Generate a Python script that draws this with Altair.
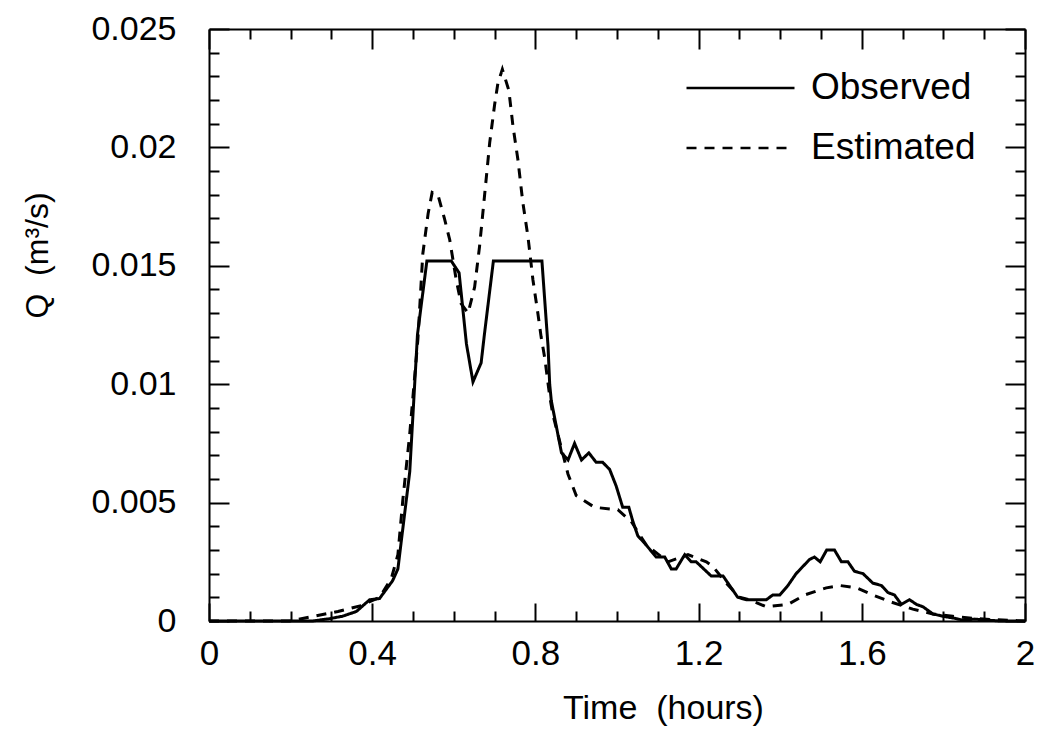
import altair as alt
import pandas as pd

# ---- data ----
obs_t = [0.0, 0.254, 0.296, 0.327, 0.361, 0.394, 0.418, 0.450, 0.463, 0.492, 0.511,
         0.534, 0.594, 0.613, 0.631, 0.647, 0.667, 0.675, 0.697, 0.816, 0.831, 0.835,
         0.839, 0.864, 0.880, 0.896, 0.913, 0.931, 0.949, 0.965, 0.982, 0.998, 1.014,
         1.029, 1.039, 1.051, 1.072, 1.096, 1.117, 1.133, 1.145, 1.166, 1.182, 1.194,
         1.231, 1.260, 1.296, 1.317, 1.366, 1.382, 1.399, 1.419, 1.439, 1.472, 1.484,
         1.498, 1.514, 1.533, 1.550, 1.566, 1.582, 1.603, 1.627, 1.648, 1.664, 1.680,
         1.697, 1.717, 1.734, 1.750, 1.774, 1.799, 1.832, 1.848, 1.877, 1.937, 2.0]
obs_q = [0.0, 0.0, 0.0001, 0.0002, 0.0004, 0.0009, 0.00095, 0.0017, 0.0022, 0.0063, 0.0121,
         0.0152, 0.0152, 0.0147, 0.0117, 0.0101, 0.0109, 0.0121, 0.0152, 0.0152, 0.0116, 0.0100,
         0.0093, 0.0071, 0.0068, 0.0075, 0.0068, 0.0071, 0.0067, 0.0067, 0.0064, 0.0057, 0.0048,
         0.0048, 0.0042, 0.0036, 0.0032, 0.0027, 0.0027, 0.0022, 0.0022, 0.0028, 0.0025, 0.0025,
         0.0019, 0.0019, 0.0010, 0.0009, 0.0009, 0.0011, 0.0011, 0.0015, 0.0020, 0.0026, 0.0027,
         0.0025, 0.0030, 0.0030, 0.0025, 0.0025, 0.0021, 0.0020, 0.0016, 0.0015, 0.0012, 0.0011,
         0.0007, 0.0009, 0.0007, 0.0006, 0.0003, 0.0002, 0.0001, 0.00003, 0.00008, 0.0, 0.0]

est_t = [0.0, 0.198, 0.316, 0.373, 0.418, 0.447, 0.463, 0.475, 0.492, 0.504, 0.512,
         0.524, 0.537, 0.547, 0.561, 0.577, 0.590, 0.606, 0.618, 0.635, 0.651, 0.663,
         0.675, 0.688, 0.700, 0.708, 0.719, 0.735, 0.745, 0.757, 0.769, 0.782, 0.794,
         0.806, 0.814, 0.823, 0.835, 0.843, 0.880, 0.900, 0.945, 1.002, 1.035, 1.072,
         1.125, 1.174, 1.219, 1.235, 1.268, 1.300, 1.325, 1.366, 1.419, 1.460, 1.513,
         1.546, 1.587, 1.627, 1.672, 1.725, 1.774, 1.823, 1.881, 1.930, 2.0]
est_q = [0.0, 0.0, 0.0004, 0.00065, 0.0010, 0.0018, 0.0028, 0.0051, 0.0079, 0.0103, 0.0119,
         0.0155, 0.0172, 0.0181, 0.0180, 0.0170, 0.0161, 0.0144, 0.0134, 0.0130, 0.0141, 0.0158,
         0.0179, 0.0202, 0.0218, 0.0227, 0.0233, 0.0224, 0.0209, 0.0195, 0.0177, 0.0162, 0.0144,
         0.0130, 0.0120, 0.0111, 0.0095, 0.0087, 0.0062, 0.0053, 0.0048, 0.0047, 0.0042, 0.0032,
         0.0025, 0.0028, 0.0025, 0.0023, 0.0016, 0.0010, 0.0009, 0.0006, 0.0007, 0.0011, 0.0014,
         0.0015, 0.0014, 0.0011, 0.0008, 0.0005, 0.0003, 0.0002, 0.0001, 0.00005, 0.0]

series_names = ["Observed", "Estimated"]

x_major = [0, 0.4, 0.8, 1.2, 1.6, 2]
x_minor = [0.1, 0.2, 0.3, 0.5, 0.6, 0.7, 0.9, 1.0, 1.1, 1.3, 1.4, 1.5, 1.7, 1.8, 1.9]
y_major = [0, 0.005, 0.01, 0.015, 0.02, 0.025]
y_minor = [0.001, 0.002, 0.003, 0.004, 0.006, 0.007, 0.008, 0.009,
           0.011, 0.012, 0.013, 0.014, 0.016, 0.017, 0.018, 0.019,
           0.021, 0.022, 0.023, 0.024]

df = pd.DataFrame({
    "t": obs_t + est_t,
    "q": obs_q + est_q,
    "series": [series_names[0]] * len(obs_t) + [series_names[1]] * len(est_t),
})

W, H = 816, 592
FONT = "Liberation Sans"

xs = alt.Scale(domain=[0, 2], nice=False, zero=False)
ys = alt.Scale(domain=[0, 0.025], nice=False)

x_main_axis = alt.Axis(
    orient="bottom", values=x_major, format="~g", ticks=False, tickSize=0,
    domain=True, domainColor="black", domainWidth=2, grid=False,
    labelFont=FONT, labelFontSize=35, labelColor="black", labelPadding=15,
    labelFlush=False, labelOverlap=False,
    title="Time\u00a0 (hours)", titleFont=FONT, titleFontSize=34,
    titleFontWeight="normal", titleColor="black", titlePadding=20,
    titleX=454,
)
y_main_axis = alt.Axis(
    orient="left", values=y_major, format="~g", ticks=False, tickSize=0,
    domain=True, domainColor="black", domainWidth=2, grid=False,
    labelFont=FONT, labelFontSize=34, labelColor="black", labelPadding=33,
    labelFlush=False, labelOverlap=False,
    title="Q\u00a0 (m³/s)", titleFont=FONT, titleFontSize=32,
    titleFontWeight="normal", titleColor="black",
    titleX=-155, titleY=226,
)

main = alt.Chart(df).mark_line(color="black", strokeWidth=3).encode(
    x=alt.X("t:Q", scale=xs, axis=x_main_axis),
    y=alt.Y("q:Q", scale=ys, axis=y_main_axis),
    strokeDash=alt.StrokeDash(
        "series:N",
        scale=alt.Scale(domain=series_names, range=[[1, 0], [10, 8]]),
        legend=alt.Legend(
            orient="none", legendX=476, legendY=39, title=None,
            symbolType="stroke", symbolSize=11664, symbolStrokeWidth=2.5,
            symbolStrokeColor="black", clipHeight=40, rowPadding=20,
            labelFont=FONT, labelFontSize=37, labelColor="black", labelOffset=15,
            labelLimit=0,
        ),
    ),
)


def tick_axis(orient, values, size, offset):
    return alt.Axis(orient=orient, values=values, offset=offset, labels=False,
                    domain=False, grid=False, ticks=True, tickSize=size,
                    tickWidth=2, tickColor="black", title=None)


def edge_axis(orient):
    return alt.Axis(orient=orient, domain=True, domainColor="black", domainWidth=2,
                    ticks=False, labels=False, grid=False, title=None)


def guide_layer(xaxis, yaxis):
    return alt.Chart(df).mark_line(opacity=0).encode(
        x=alt.X("t:Q", scale=xs, axis=xaxis),
        y=alt.Y("q:Q", scale=ys, axis=yaxis),
        detail="series:N",
    )


layers = [
    main,
    guide_layer(tick_axis("top", x_major, 18, -H), tick_axis("right", y_major, 20, -W)),
    guide_layer(tick_axis("top", x_minor, 10, -H), tick_axis("right", y_minor, 10, -W)),
    guide_layer(tick_axis("bottom", x_major, 20, -H), tick_axis("left", y_major, 20, -W)),
    guide_layer(tick_axis("bottom", x_minor, 10, -H), tick_axis("left", y_minor, 10, -W)),
    guide_layer(edge_axis("top"), edge_axis("right")),
]

chart = alt.layer(*layers).resolve_axis(x="independent", y="independent").properties(
    width=W, height=H,
    autosize=alt.AutoSizeParams(type="none"),
    padding={"left": 201, "top": 21, "right": 10, "bottom": 110},
    background="white",
).configure_view(stroke=None)

chart.save("out.html", embed_options={"renderer": "svg", "actions": False})
